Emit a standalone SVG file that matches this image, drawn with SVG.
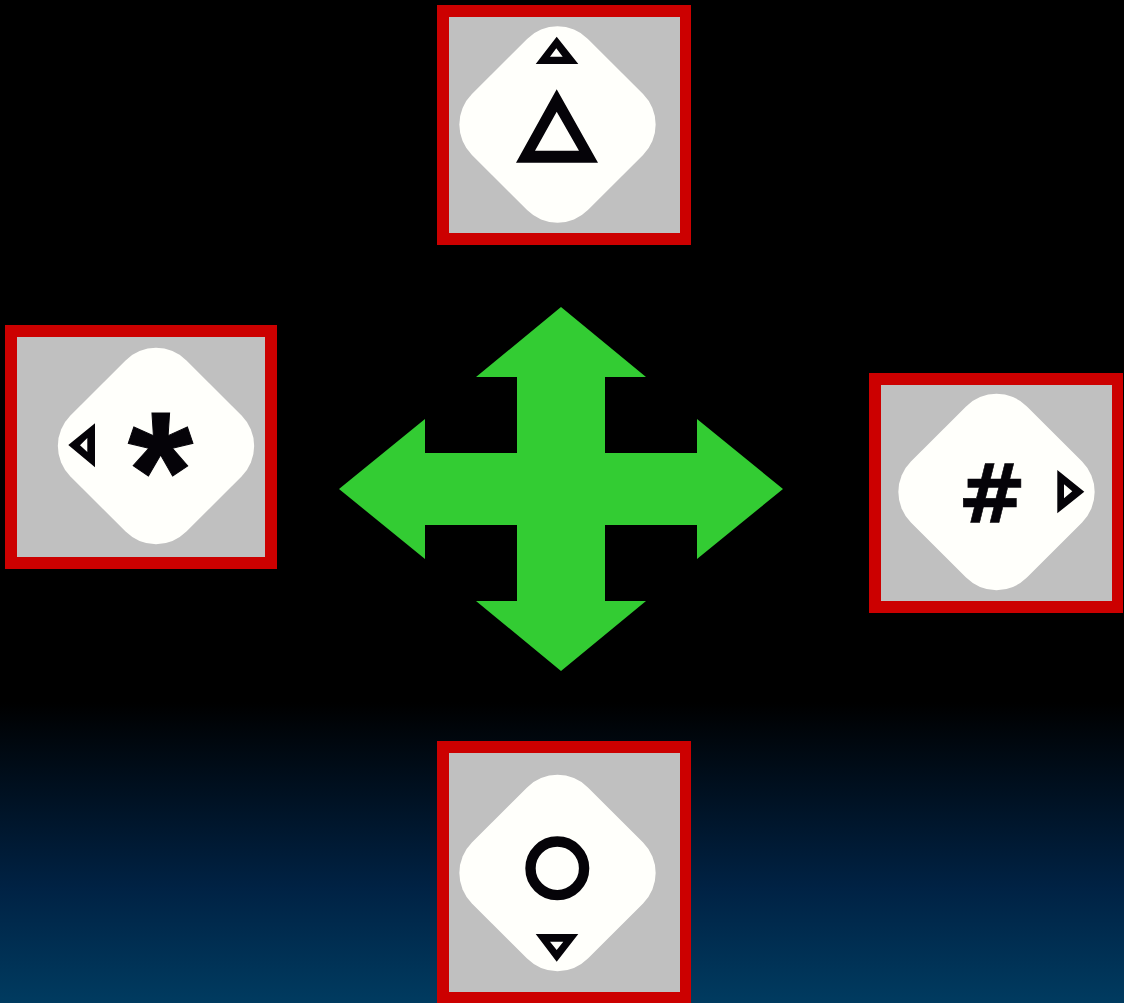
<svg xmlns="http://www.w3.org/2000/svg" width="1124" height="1003" viewBox="0 0 1124 1003">
<style>
.frame{fill:#cc0000}
.well{fill:#c0c0c0}
.dia{fill:#fffffb}
.sym{fill:#050308;fill-rule:evenodd}
.ring{fill:none;stroke:#050308;stroke-width:10.4}
.glyph{fill:#050308;stroke:#050308;font-weight:700;text-anchor:middle}
.hash{font-family:"DejaVu Sans",sans-serif;stroke-width:.6}
.star{font-family:"Liberation Sans",Arial,sans-serif;stroke-width:1}
.soft{filter:url(#soft)}
</style>
<defs>
<linearGradient id="bg" x1="0" y1="0" x2="0" y2="1">
<stop offset="0" stop-color="#000000"/><stop offset="0.7" stop-color="#000000"/><stop offset="0.885" stop-color="#002244"/><stop offset="1" stop-color="#003b60"/>
</linearGradient>
<filter id="soft" x="-5%" y="-5%" width="110%" height="110%" color-interpolation-filters="sRGB"><feGaussianBlur stdDeviation="0.5"/></filter>
<rect id="d" x="-82" y="-82" width="164" height="164" rx="43" transform="rotate(45)"/>
</defs>
<rect width="1124" height="1003" fill="url(#bg)"/>
<g id="connectors">
<polygon fill="#33cc33" points="561,307 646,377 605,377 605,453 697,453 697,419 783,489 697,559 697,525 605,525 605,601 646,601 561,671 476,601 517,601 517,525 425,525 425,559 339,489 425,419 425,453 517,453 517,377 476,377"/>
</g>
<g id="node-top">
<rect class="frame" x="437" y="5" width="254" height="240"/>
<rect class="well" x="449" y="17" width="231" height="216"/>
<g class="soft">
<use href="#d" class="dia" x="557.5" y="124.5"/>
<path class="sym" d="M556.7 36.7L578.3 64H535.7ZM556.3 48.3L550 56.7H562.7Z"/>
<path class="sym" d="M556.7 89.3L598 162.7H516ZM556.7 111.7L535 150.7H579Z"/>
</g>
</g>
<g id="node-left">
<rect class="frame" x="5" y="325" width="272" height="244"/>
<rect class="well" x="17" y="337" width="248" height="220"/>
<g class="soft">
<use href="#d" class="dia" x="156" y="446"/>
<path class="sym" d="M68.3 445L95 423.3V467.3ZM80 445.3L87.3 452V438Z"/>
<text class="glyph star" x="160.5" y="529" font-size="168">*</text>
</g>
</g>
<g id="node-right">
<rect class="frame" x="869" y="373" width="254" height="240"/>
<rect class="well" x="881" y="385" width="231" height="216"/>
<g class="soft">
<use href="#d" class="dia" x="996.5" y="492"/>
<path class="sym" d="M1057.3 470L1084.3 491.7L1057.3 513.3ZM1064 484.3V498.3L1072.3 491.3Z"/>
<text class="glyph hash" x="992" y="522" font-size="82">#</text>
</g>
</g>
<g id="node-bottom">
<rect class="frame" x="437" y="741" width="254" height="262"/>
<rect class="well" x="449" y="753" width="231" height="239"/>
<g class="soft">
<use href="#d" class="dia" x="557.5" y="873"/>
<circle class="ring" cx="557.3" cy="868.3" r="26.8"/>
<path class="sym" d="M535.7 934H578.3L556.7 961.7ZM550 941.7L556.7 950L563.3 941.7Z"/>
</g>
</g>
</svg>
